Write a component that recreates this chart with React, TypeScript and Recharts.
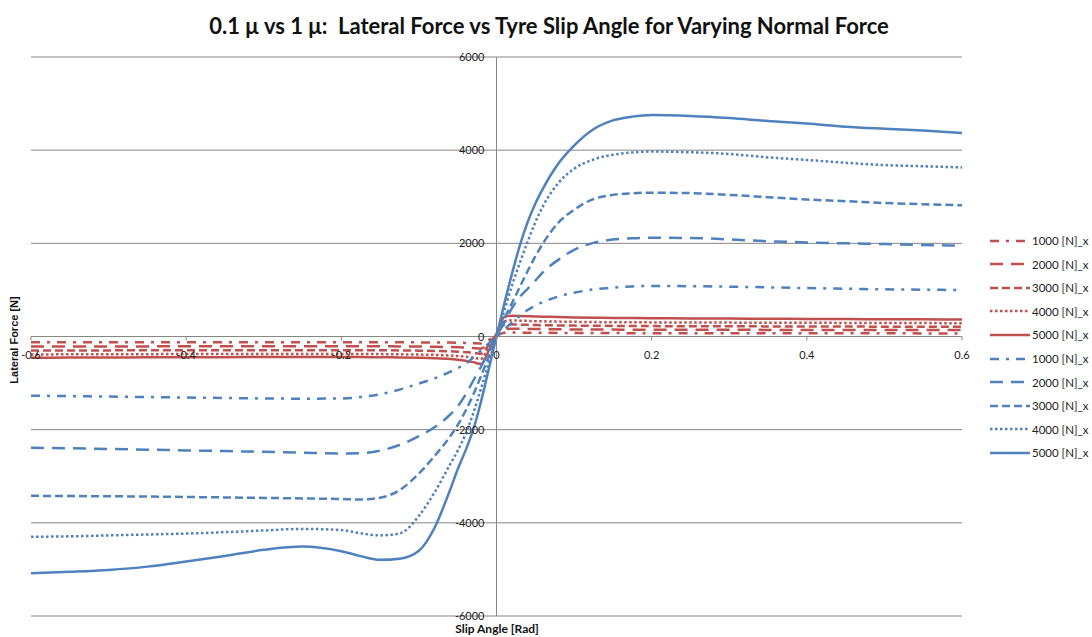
import React from 'react';
import {
  LineChart,
  Line,
  XAxis,
  YAxis,
  CartesianGrid,
  ReferenceLine
} from 'recharts';

// Slip angle samples [rad]
const slipAngle = [
  -0.6, -0.55, -0.5, -0.45, -0.4, -0.35, -0.3, -0.25, -0.2, -0.175, -0.15, -0.125, -0.1, -0.08,
  -0.06, -0.05, -0.04, -0.03, -0.02, -0.01, 0, 0.01, 0.02, 0.03, 0.04, 0.05, 0.06, 0.08, 0.1,
  0.125, 0.15, 0.175, 0.2, 0.25, 0.3, 0.35, 0.4, 0.45, 0.5, 0.55, 0.6
];

// 0.1 mu series (red)
const low1000 = [
  -125, -124, -124, -123, -123, -122, -122, -121, -121, -122, -123, -124, -126, -128,
  -131, -134, -138, -143, -150, -75, 12, 78, 85, 83, 81, 80, 79, 77, 75,
  74, 73, 72, 71, 70, 70, 69, 69, 68, 68, 67, 67
];
const low2000 = [
  -215, -214, -213, -212, -211, -210, -209, -208, -208, -209, -210, -212, -216, -220,
  -226, -231, -238, -248, -262, -130, 25, 155, 168, 165, 162, 160, 158, 155, 152,
  150, 148, 146, 145, 144, 143, 142, 141, 140, 139, 138, 137
];
const low3000 = [
  -300, -299, -298, -297, -296, -295, -294, -293, -293, -294, -296, -299, -304, -309,
  -318, -326, -337, -350, -370, -180, 35, 245, 258, 254, 250, 246, 243, 238, 234,
  230, 227, 225, 223, 221, 219, 217, 215, 213, 211, 209, 207
];
const low4000 = [
  -385, -383, -381, -379, -377, -375, -374, -373, -373, -375, -378, -382, -388, -395,
  -408, -420, -435, -455, -480, -240, 45, 330, 345, 340, 335, 330, 326, 320, 315,
  310, 307, 305, 303, 300, 298, 296, 294, 292, 290, 288, 286
];
const low5000 = [
  -455, -453, -450, -447, -445, -443, -441, -440, -440, -442, -445, -450, -458, -468,
  -485, -500, -520, -550, -590, -300, 60, 420, 445, 440, 435, 430, 425, 418, 410,
  403, 398, 395, 392, 388, 384, 380, 377, 374, 371, 368, 365
];

// 1 mu series (blue)
const high1000 = [
  -1270, -1280, -1290, -1300, -1310, -1320, -1330, -1335, -1330, -1300, -1240, -1140, -1010, -900,
  -760, -680, -590, -450, -300, -150, 0, 150, 300, 440, 570, 660, 740, 860, 940,
  1010, 1050, 1075, 1085, 1080, 1070, 1055, 1040, 1025, 1012, 1005, 998
];
const high2000 = [
  -2390, -2400, -2415, -2430, -2445, -2460, -2475, -2495, -2510, -2505, -2450, -2330, -2140, -1950,
  -1680, -1500, -1250, -950, -650, -320, 0, 300, 610, 850, 1020, 1200, 1380, 1650, 1860,
  2010, 2080, 2110, 2120, 2115, 2085, 2045, 2020, 2000, 1985, 1965, 1950
];
const high3000 = [
  -3420, -3425, -3430, -3435, -3445, -3455, -3465, -3475, -3490, -3500, -3460, -3300, -2940, -2570,
  -2150, -1900, -1600, -1250, -850, -430, 0, 380, 720, 1060, 1400, 1720, 2000, 2450, 2720,
  2950, 3040, 3075, 3087, 3078, 3040, 2990, 2940, 2905, 2865, 2840, 2815
];
const high4000 = [
  -4300, -4290, -4270, -4250, -4230, -4200, -4165, -4130, -4155, -4225, -4270, -4230, -3850, -3350,
  -2750, -2450, -2100, -1650, -1120, -560, 0, 550, 1100, 1580, 2030, 2450, 2800, 3300, 3600,
  3800, 3900, 3950, 3970, 3955, 3918, 3845, 3790, 3730, 3680, 3655, 3630
];
const high5000 = [
  -5080, -5050, -5010, -4940, -4830, -4710, -4580, -4510, -4610, -4715, -4795, -4770, -4600, -4110,
  -3300, -2850, -2450, -2000, -1400, -700, 0, 700, 1350, 1950, 2450, 2850, 3180, 3720, 4100,
  4450, 4640, 4720, 4755, 4735, 4690, 4625, 4570, 4505, 4460, 4420, 4370
];

const xTicks = [-0.6, -0.4, -0.2, 0, 0.2, 0.4, 0.6];
const yTicks = [-6000, -4000, -2000, 0, 2000, 4000, 6000];

const RED = '#C0504D';
const BLUE = '#4F81BD';
const GRID = '#868686';

const DASH_DOT = '9 7 3 7';
const LONG_DASH = '13 8';
const DASH = '8 4';
const DOT = '2.5 2.5';

const series = [
  { key: 'low1000', name: '1000 [N]_x', values: low1000, color: RED, dash: DASH_DOT },
  { key: 'low2000', name: '2000 [N]_x', values: low2000, color: RED, dash: LONG_DASH },
  { key: 'low3000', name: '3000 [N]_x', values: low3000, color: RED, dash: DASH },
  { key: 'low4000', name: '4000 [N]_x', values: low4000, color: RED, dash: DOT },
  { key: 'low5000', name: '5000 [N]_x', values: low5000, color: RED, dash: undefined },
  { key: 'high1000', name: '1000 [N]_x', values: high1000, color: BLUE, dash: DASH_DOT },
  { key: 'high2000', name: '2000 [N]_x', values: high2000, color: BLUE, dash: LONG_DASH },
  { key: 'high3000', name: '3000 [N]_x', values: high3000, color: BLUE, dash: DASH },
  { key: 'high4000', name: '4000 [N]_x', values: high4000, color: BLUE, dash: DOT },
  { key: 'high5000', name: '5000 [N]_x', values: high5000, color: BLUE, dash: undefined },
];

const data = slipAngle.map((s, i) => {
  const row: Record<string, number> = { slip: s };
  series.forEach((sr) => { row[sr.key] = sr.values[i]; });
  return row;
});

// layout: plot area spans x 31..962, y 57..616
const W = 1092;
const H = 637;
const X_AXIS_H = 20;
const Y_AXIS_W = 30;
const MARGIN = { top: 57, right: 130, bottom: 21 - X_AXIS_H, left: 31 - Y_AXIS_W };
const PLOT_W = W - 31 - MARGIN.right;
const PLOT_H = H - MARGIN.top - 21;
const ZERO_X = 31 + PLOT_W / 2;
const ZERO_Y = MARGIN.top + PLOT_H / 2;

const FONT = 'Lato, "Open Sans", sans-serif';

// axes cross at the origin, so ticks are drawn on the zero lines
const renderXTick = (props: any) => {
  const { x, payload } = props;
  return (
    <g>
      <line x1={x} x2={x} y1={ZERO_Y} y2={ZERO_Y + 4} stroke={GRID} />
      <text x={x} y={ZERO_Y + 22} textAnchor="middle" fontSize={11} fontFamily={FONT} fill="#222">
        {payload.value}
      </text>
    </g>
  );
};

const renderYTick = (props: any) => {
  const { y, payload } = props;
  return (
    <text x={ZERO_X - 12} y={y + 4} textAnchor="end" fontSize={11} fontFamily={FONT} fill="#222">
      {payload.value}
    </text>
  );
};

const LegendBox = () => (
  <div style={{ position: 'absolute', left: 989, top: 229, fontFamily: FONT, fontSize: 11.5, color: '#222' }}>
    {series.map((s) => (
      <div key={s.key} style={{ display: 'flex', alignItems: 'center', height: 23.55 }}>
        <svg width={42} height={10}>
          <line x1={1} x2={41} y1={5} y2={5} stroke={s.color} strokeWidth={2.5} strokeDasharray={s.dash} />
        </svg>
        <span style={{ marginLeft: 1, whiteSpace: 'nowrap' }}>{s.name}</span>
      </div>
    ))}
  </div>
);

const App = () => {
  return (
    <div style={{ position: 'absolute', left: 0, top: 0, width: W, height: H, background: '#fff', overflow: 'hidden' }}>
      <div style={{ position: 'absolute', left: 0, top: 12, width: 1098, textAlign: 'center', fontFamily: FONT, fontWeight: 'bold', fontSize: 22, color: '#111' }}>
        0.1 μ vs 1 μ:&nbsp; Lateral Force vs Tyre Slip Angle for Varying Normal Force
      </div>
      <LineChart width={W} height={H} data={data} margin={MARGIN}>
        <CartesianGrid vertical={false} stroke={GRID} />
        <XAxis
          dataKey="slip"
          type="number"
          domain={[-0.6, 0.6]}
          ticks={xTicks}
          height={X_AXIS_H}
          axisLine={false}
          tickLine={false}
          tick={renderXTick}
          interval={0}
        />
        <YAxis
          type="number"
          domain={[-6000, 6000]}
          ticks={yTicks}
          width={Y_AXIS_W}
          axisLine={false}
          tickLine={false}
          tick={renderYTick}
          interval={0}
        />
        <ReferenceLine x={0} stroke={GRID} />
        <ReferenceLine y={0} stroke={GRID} />
        {series.map((s) => (
          <Line
            key={s.key}
            dataKey={s.key}
            name={s.name}
            type="monotone"
            stroke={s.color}
            strokeWidth={2.5}
            strokeDasharray={s.dash}
            dot={false}
            isAnimationActive={false}
          />
        ))}
      </LineChart>
      <div style={{ position: 'absolute', left: 14, top: 340, transform: 'translate(-50%, -50%) rotate(-90deg)', fontFamily: '"Liberation Sans", Arial, sans-serif', fontWeight: 'bold', fontSize: 11, whiteSpace: 'nowrap', color: '#111' }}>
        Lateral Force [N]
      </div>
      <div style={{ position: 'absolute', left: 497, top: 628, transform: 'translate(-50%, -50%)', fontFamily: FONT, fontWeight: 'bold', fontSize: 12, whiteSpace: 'nowrap', color: '#111' }}>
        Slip Angle [Rad]
      </div>
      <LegendBox />
    </div>
  );
};

export default App;
